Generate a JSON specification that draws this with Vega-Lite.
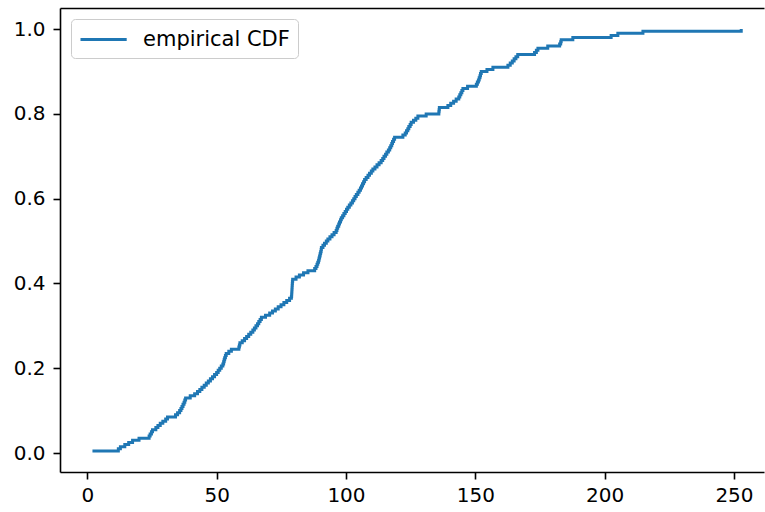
{
  "$schema": "https://vega.github.io/schema/vega-lite/v6.json",
  "width": 704,
  "height": 464,
  "autosize": {"type": "none"},
  "padding": {"left": 60, "top": 8, "right": 1, "bottom": 40},
  "background": "white",
  "config": {
    "view": {"stroke": null},
    "axis": {
      "domainColor": "black", "domainWidth": 1.6,
      "tickColor": "black", "tickWidth": 1.6, "tickSize": 7,
      "labelFont": "DejaVu Sans", "labelFontSize": 20, "labelColor": "black",
      "grid": false
    },
    "legend": {
      "orient": "top-left", "offset": 11, "padding": 8,
      "strokeColor": "#cccccc", "fillColor": "rgba(255,255,255,0.8)", "cornerRadius": 4,
      "symbolType": "M-1,0H3.2", "symbolSize": 484, "symbolStrokeWidth": 3,
      "labelFontSize": 21, "labelFont": "DejaVu Sans", "labelColor": "black", "labelOffset": 39
    }
  },
  "data": {"values": [
    {"x": 2.0, "y": 0.005}, {"x": 12.0, "y": 0.01}, {"x": 12.8, "y": 0.015}, {"x": 14.5, "y": 0.02},
    {"x": 16.0, "y": 0.025}, {"x": 17.5, "y": 0.03}, {"x": 20.0, "y": 0.035}, {"x": 23.9, "y": 0.04},
    {"x": 24.3, "y": 0.045}, {"x": 24.8, "y": 0.05}, {"x": 25.2, "y": 0.055}, {"x": 26.5, "y": 0.06},
    {"x": 27.3, "y": 0.065}, {"x": 28.2, "y": 0.07}, {"x": 29.2, "y": 0.075}, {"x": 30.3, "y": 0.08},
    {"x": 31.0, "y": 0.085}, {"x": 34.1, "y": 0.09}, {"x": 34.9, "y": 0.095}, {"x": 35.7, "y": 0.1},
    {"x": 36.2, "y": 0.105}, {"x": 36.6, "y": 0.11}, {"x": 37.0, "y": 0.115}, {"x": 37.4, "y": 0.12},
    {"x": 37.7, "y": 0.125}, {"x": 38.0, "y": 0.13}, {"x": 39.8, "y": 0.135}, {"x": 41.5, "y": 0.14},
    {"x": 42.6, "y": 0.145}, {"x": 43.5, "y": 0.15}, {"x": 44.3, "y": 0.155}, {"x": 45.2, "y": 0.16},
    {"x": 46.0, "y": 0.165}, {"x": 46.8, "y": 0.17}, {"x": 47.6, "y": 0.175}, {"x": 48.4, "y": 0.18},
    {"x": 49.2, "y": 0.185}, {"x": 50.0, "y": 0.19}, {"x": 50.6, "y": 0.195}, {"x": 51.2, "y": 0.2},
    {"x": 51.8, "y": 0.205}, {"x": 52.4, "y": 0.21}, {"x": 52.7, "y": 0.215}, {"x": 52.9, "y": 0.22},
    {"x": 53.1, "y": 0.225}, {"x": 53.4, "y": 0.23}, {"x": 53.7, "y": 0.235}, {"x": 54.7, "y": 0.24},
    {"x": 55.7, "y": 0.245}, {"x": 58.6, "y": 0.25}, {"x": 58.8, "y": 0.255}, {"x": 59.0, "y": 0.26},
    {"x": 59.9, "y": 0.265}, {"x": 60.8, "y": 0.27}, {"x": 61.6, "y": 0.275}, {"x": 62.4, "y": 0.28},
    {"x": 63.2, "y": 0.285}, {"x": 64.0, "y": 0.29}, {"x": 64.6, "y": 0.295}, {"x": 65.2, "y": 0.3},
    {"x": 65.8, "y": 0.305}, {"x": 66.3, "y": 0.31}, {"x": 66.8, "y": 0.315}, {"x": 67.3, "y": 0.32},
    {"x": 68.9, "y": 0.325}, {"x": 70.5, "y": 0.33}, {"x": 71.6, "y": 0.335}, {"x": 72.7, "y": 0.34},
    {"x": 73.8, "y": 0.345}, {"x": 74.9, "y": 0.35}, {"x": 76.0, "y": 0.355}, {"x": 77.1, "y": 0.36},
    {"x": 78.2, "y": 0.365}, {"x": 78.9, "y": 0.37}, {"x": 79.0, "y": 0.375}, {"x": 79.05, "y": 0.38},
    {"x": 79.1, "y": 0.385}, {"x": 79.15, "y": 0.39}, {"x": 79.2, "y": 0.395}, {"x": 79.25, "y": 0.4},
    {"x": 79.3, "y": 0.405}, {"x": 79.4, "y": 0.41}, {"x": 80.7, "y": 0.415}, {"x": 82.0, "y": 0.42},
    {"x": 83.6, "y": 0.425}, {"x": 85.3, "y": 0.43}, {"x": 87.9, "y": 0.435}, {"x": 88.4, "y": 0.44},
    {"x": 88.8, "y": 0.445}, {"x": 89.1, "y": 0.45}, {"x": 89.4, "y": 0.455}, {"x": 89.6, "y": 0.46},
    {"x": 89.8, "y": 0.465}, {"x": 90.0, "y": 0.47}, {"x": 90.2, "y": 0.475}, {"x": 90.4, "y": 0.48},
    {"x": 90.5, "y": 0.485}, {"x": 91.1, "y": 0.49}, {"x": 91.7, "y": 0.495}, {"x": 92.4, "y": 0.5},
    {"x": 93.0, "y": 0.505}, {"x": 93.8, "y": 0.51}, {"x": 94.6, "y": 0.515}, {"x": 95.4, "y": 0.52},
    {"x": 96.2, "y": 0.525}, {"x": 96.5, "y": 0.53}, {"x": 96.8, "y": 0.535}, {"x": 97.2, "y": 0.54},
    {"x": 97.5, "y": 0.545}, {"x": 97.9, "y": 0.55}, {"x": 98.2, "y": 0.555}, {"x": 98.7, "y": 0.56},
    {"x": 99.2, "y": 0.565}, {"x": 99.7, "y": 0.57}, {"x": 100.2, "y": 0.575}, {"x": 100.7, "y": 0.58},
    {"x": 101.3, "y": 0.585}, {"x": 101.9, "y": 0.59}, {"x": 102.5, "y": 0.595}, {"x": 103.0, "y": 0.6},
    {"x": 103.5, "y": 0.605}, {"x": 104.0, "y": 0.61}, {"x": 104.6, "y": 0.615}, {"x": 105.1, "y": 0.62},
    {"x": 105.6, "y": 0.625}, {"x": 106.0, "y": 0.63}, {"x": 106.4, "y": 0.635}, {"x": 106.8, "y": 0.64},
    {"x": 107.2, "y": 0.645}, {"x": 107.8, "y": 0.65}, {"x": 108.5, "y": 0.655}, {"x": 109.1, "y": 0.66},
    {"x": 109.8, "y": 0.665}, {"x": 110.4, "y": 0.67}, {"x": 111.2, "y": 0.675}, {"x": 112.0, "y": 0.68},
    {"x": 112.8, "y": 0.685}, {"x": 113.6, "y": 0.69}, {"x": 114.2, "y": 0.695}, {"x": 114.7, "y": 0.7},
    {"x": 115.3, "y": 0.705}, {"x": 115.8, "y": 0.71}, {"x": 116.4, "y": 0.715}, {"x": 116.9, "y": 0.72},
    {"x": 117.3, "y": 0.725}, {"x": 117.7, "y": 0.73}, {"x": 118.0, "y": 0.735}, {"x": 118.4, "y": 0.74},
    {"x": 118.8, "y": 0.745}, {"x": 122.0, "y": 0.75}, {"x": 122.9, "y": 0.755}, {"x": 123.4, "y": 0.76},
    {"x": 123.9, "y": 0.765}, {"x": 124.3, "y": 0.77}, {"x": 124.8, "y": 0.775}, {"x": 125.2, "y": 0.78},
    {"x": 126.1, "y": 0.785}, {"x": 127.0, "y": 0.79}, {"x": 127.8, "y": 0.795}, {"x": 131.0, "y": 0.8},
    {"x": 135.9, "y": 0.805}, {"x": 136.0, "y": 0.81}, {"x": 136.1, "y": 0.815}, {"x": 139.4, "y": 0.82},
    {"x": 140.5, "y": 0.825}, {"x": 141.6, "y": 0.83}, {"x": 142.6, "y": 0.835}, {"x": 143.6, "y": 0.84},
    {"x": 144.0, "y": 0.845}, {"x": 144.4, "y": 0.85}, {"x": 144.8, "y": 0.855}, {"x": 145.2, "y": 0.86},
    {"x": 147.0, "y": 0.865}, {"x": 150.4, "y": 0.87}, {"x": 150.8, "y": 0.875}, {"x": 151.2, "y": 0.88},
    {"x": 151.5, "y": 0.885}, {"x": 151.8, "y": 0.89}, {"x": 152.0, "y": 0.895}, {"x": 152.3, "y": 0.9},
    {"x": 154.5, "y": 0.905}, {"x": 156.8, "y": 0.91}, {"x": 162.6, "y": 0.915}, {"x": 163.5, "y": 0.92},
    {"x": 164.3, "y": 0.925}, {"x": 165.0, "y": 0.93}, {"x": 165.7, "y": 0.935}, {"x": 166.4, "y": 0.94},
    {"x": 172.9, "y": 0.945}, {"x": 173.6, "y": 0.95}, {"x": 174.2, "y": 0.955}, {"x": 178.0, "y": 0.96},
    {"x": 182.6, "y": 0.965}, {"x": 183.0, "y": 0.97}, {"x": 183.2, "y": 0.975}, {"x": 187.7, "y": 0.98},
    {"x": 202.5, "y": 0.985}, {"x": 205.1, "y": 0.99}, {"x": 214.8, "y": 0.995}, {"x": 252.8, "y": 1.0}
  ]},
  "layer": [
    {
      "mark": {"type": "line", "interpolate": "step-after", "strokeWidth": 3},
      "encoding": {
        "x": {"field": "x", "type": "quantitative",
          "scale": {"domain": [-10.55, 261.6], "nice": false, "zero": false},
          "axis": {"orient": "bottom", "values": [0, 50, 100, 150, 200, 250], "title": null, "labelPadding": 6}},
        "y": {"field": "y", "type": "quantitative",
          "scale": {"domain": [-0.0448, 1.0498], "nice": false, "zero": false},
          "axis": {"values": [0, 0.2, 0.4, 0.6, 0.8, 1.0], "format": ".1f", "title": null, "labelPadding": 8}},
        "color": {"datum": "empirical CDF", "type": "nominal",
          "scale": {"range": ["#1f77b4"]}, "legend": {"title": null}}
      }
    },
    {
      "mark": {"type": "line", "opacity": 0},
      "encoding": {
        "x": {"field": "x", "type": "quantitative",
          "axis": {"orient": "top", "labels": false, "ticks": false, "title": null}},
        "y": {"field": "y", "type": "quantitative"}
      }
    }
  ],
  "resolve": {"axis": {"x": "independent"}}
}
